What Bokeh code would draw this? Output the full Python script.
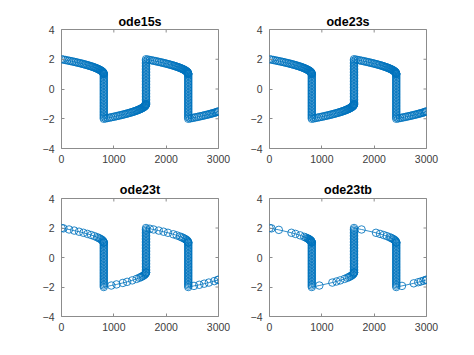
from bokeh.plotting import figure
from bokeh.layouts import column, row
from bokeh.models import FixedTicker, Range1d
from bokeh.embed import file_html
from bokeh.resources import INLINE

BLUE = "#0072BD"
X_TICKS = [0, 1000, 2000, 3000]
Y_TICKS = [-4, -2, 0, 2, 4]
X_LIM = (0, 3000)
Y_LIM = (-4, 4)

# time of the three fast transitions and the stacked samples in each vertical jump
JUMP_T = [808, 1615, 2422]
DROP_Y = [1.0, 0.9, 0.8, 0.7, 0.6, 0.5, 0.4, 0.3, 0.2, 0.1, 0.0, -0.1, -0.2, -0.3, -0.4,
          -0.5, -0.6, -0.7, -0.8, -0.9, -1.0, -1.1, -1.2, -1.3, -1.4, -1.5, -1.6, -1.7,
          -1.8, -1.9, -2.0]
RISE_Y = [-1.0, -0.9, -0.8, -0.7, -0.6, -0.5, -0.4, -0.3, -0.2, -0.1, 0.0, 0.1, 0.2, 0.3,
          0.4, 0.5, 0.6, 0.7, 0.8, 0.9, 1.0, 1.1, 1.2, 1.3, 1.4, 1.5, 1.6, 1.7, 1.8, 1.9, 2.0]

# slow-branch samples, ode15s (dense steps)
ODE15S_T = [0, 37, 73, 109, 144, 178, 211, 243, 275, 305, 335, 364, 393, 420, 446, 472, 497,
            521, 544, 566, 587, 608, 627, 646, 663, 680, 696, 710, 724, 737, 749, 760, 769,
            778, 785, 792, 797, 801, 804, 806, 807,
            845, 881, 917, 952, 986, 1019, 1051, 1083, 1113, 1143, 1172, 1201, 1228, 1254,
            1280, 1305, 1329, 1352, 1374, 1395, 1416, 1435, 1454, 1471, 1488, 1504, 1518,
            1532, 1545, 1557, 1568, 1577, 1586, 1593, 1600, 1605, 1609, 1612, 1614, 1615,
            1652, 1688, 1724, 1759, 1793, 1826, 1858, 1890, 1920, 1950, 1979, 2008, 2035,
            2061, 2087, 2112, 2136, 2159, 2181, 2202, 2223, 2242, 2261, 2278, 2295, 2311,
            2325, 2339, 2352, 2364, 2375, 2384, 2393, 2400, 2407, 2412, 2416, 2419, 2421, 2422,
            2459, 2495, 2531, 2566, 2600, 2633, 2665, 2697, 2727, 2757, 2786, 2815, 2842,
            2868, 2894, 2919, 2943, 2966, 2988, 3000]
ODE15S_Y = [2.0, 1.975, 1.95, 1.925, 1.9, 1.875, 1.85, 1.825, 1.8, 1.775, 1.75, 1.725, 1.7,
            1.675, 1.65, 1.625, 1.6, 1.575, 1.55, 1.525, 1.5, 1.475, 1.45, 1.425, 1.4, 1.375,
            1.35, 1.325, 1.3, 1.275, 1.25, 1.225, 1.2, 1.175, 1.15, 1.125, 1.1, 1.075, 1.05,
            1.025, 1.0,
            -1.975, -1.95, -1.925, -1.9, -1.875, -1.85, -1.825, -1.8, -1.775, -1.75, -1.725,
            -1.7, -1.675, -1.65, -1.625, -1.6, -1.575, -1.55, -1.525, -1.5, -1.475, -1.45,
            -1.425, -1.4, -1.375, -1.35, -1.325, -1.3, -1.275, -1.25, -1.225, -1.2, -1.175,
            -1.15, -1.125, -1.1, -1.075, -1.05, -1.025, -1.0,
            1.975, 1.95, 1.925, 1.9, 1.875, 1.85, 1.825, 1.8, 1.775, 1.75, 1.725, 1.7, 1.675,
            1.65, 1.625, 1.6, 1.575, 1.55, 1.525, 1.5, 1.475, 1.45, 1.425, 1.4, 1.375, 1.35,
            1.325, 1.3, 1.275, 1.25, 1.225, 1.2, 1.175, 1.15, 1.125, 1.1, 1.075, 1.05, 1.025, 1.0,
            -1.975, -1.95, -1.925, -1.9, -1.875, -1.85, -1.825, -1.8, -1.775, -1.75, -1.725,
            -1.7, -1.675, -1.65, -1.625, -1.6, -1.575, -1.55, -1.525, -1.505]

# ode23s looks the same as ode15s at this resolution
ODE23S_T = list(ODE15S_T)
ODE23S_Y = list(ODE15S_Y)

# ode23t (medium steps)
ODE23T_T = [0, 37, 144, 243, 335, 420, 497, 566, 627, 680, 710, 737, 760, 778, 792, 801, 806, 807,
            952, 1051, 1172, 1254, 1352, 1435, 1488, 1518, 1545, 1568, 1586, 1600, 1609, 1614, 1615,
            1688, 1759, 1858, 1950, 2035, 2136, 2202, 2261, 2295, 2325, 2352, 2375, 2393, 2407,
            2416, 2421, 2422,
            2531, 2633, 2727, 2815, 2919, 2988, 3000]
ODE23T_Y = [2.0, 1.975, 1.9, 1.825, 1.75, 1.675, 1.6, 1.525, 1.45, 1.375, 1.325, 1.275, 1.225,
            1.175, 1.125, 1.075, 1.025, 1.0,
            -1.9, -1.825, -1.725, -1.65, -1.55, -1.45, -1.375, -1.325, -1.275, -1.225, -1.175,
            -1.125, -1.075, -1.025, -1.0,
            1.95, 1.9, 1.825, 1.75, 1.675, 1.575, 1.5, 1.425, 1.375, 1.325, 1.275, 1.225, 1.175,
            1.125, 1.075, 1.025, 1.0,
            -1.925, -1.85, -1.775, -1.7, -1.6, -1.525, -1.505]

# ode23tb (large steps)
ODE23TB_T = [0, 37, 178, 420, 497, 587, 663, 696, 724, 737, 749, 760, 769, 778, 785, 792, 797,
             801, 804, 806, 807,
             952, 1201, 1280, 1352, 1435, 1488, 1518, 1545, 1568, 1586, 1600, 1609, 1614, 1615,
             1759, 2035, 2112, 2181, 2242, 2295, 2325, 2352, 2375, 2393, 2407, 2416, 2421, 2422,
             2531, 2757, 2842, 2894, 2943, 2988, 3000]
ODE23TB_Y = [2.0, 1.975, 1.875, 1.675, 1.6, 1.5, 1.4, 1.35, 1.3, 1.275, 1.25, 1.225, 1.2, 1.175,
             1.15, 1.125, 1.1, 1.075, 1.05, 1.025, 1.0,
             -1.9, -1.7, -1.625, -1.55, -1.45, -1.375, -1.325, -1.275, -1.225, -1.175, -1.125,
             -1.075, -1.025, -1.0,
             1.9, 1.675, 1.6, 1.525, 1.45, 1.375, 1.325, 1.275, 1.225, 1.175, 1.125, 1.075,
             1.025, 1.0,
             -1.925, -1.75, -1.675, -1.625, -1.575, -1.525, -1.505]

TITLES = ["ode15s", "ode23s", "ode23t", "ode23tb"]
SERIES = [(ODE15S_T, ODE15S_Y), (ODE23S_T, ODE23S_Y), (ODE23T_T, ODE23T_Y), (ODE23TB_T, ODE23TB_Y)]

FONT = "Liberation Sans"
TICK_COLOR = "#404040"
BOX_COLOR = "#8c8c8c"


def with_jumps(ts, ys):
    pts = list(zip(ts, ys))
    for k, jt in enumerate(JUMP_T):
        col = DROP_Y if k % 2 == 0 else RISE_Y
        pts += [(jt, v) for v in col]
    pts.sort(key=lambda p: p[0])
    return [p[0] for p in pts], [p[1] for p in pts]


def panel(title, ts, ys, left, right, top, bottom, fh, title_standoff):
    p = figure(frame_width=157, frame_height=fh,
               x_range=Range1d(*X_LIM), y_range=Range1d(*Y_LIM),
               output_backend="svg", toolbar_location=None, title=title,
               min_border_left=left, min_border_right=right,
               min_border_top=top, min_border_bottom=bottom,
               background_fill_color="white", border_fill_color="white")
    p.title.align = "center"
    p.title.text_font = FONT
    p.title.text_font_size = "12.5px"
    p.title.text_font_style = "bold"
    p.title.text_color = "#000000"
    p.title.standoff = title_standoff
    p.xgrid.visible = False
    p.ygrid.visible = False
    p.outline_line_color = BOX_COLOR
    p.outline_line_width = 1

    for ax, ticks in ((p.xaxis[0], X_TICKS), (p.yaxis[0], Y_TICKS)):
        ax.ticker = FixedTicker(ticks=ticks)
        ax.axis_line_color = None
        ax.major_tick_in = 3
        ax.major_tick_out = 0
        ax.minor_tick_line_color = None
        ax.major_tick_line_color = BOX_COLOR
        ax.major_label_text_font = FONT
        ax.major_label_text_font_size = "10.5px"
        ax.major_label_text_color = TICK_COLOR
    p.xaxis[0].major_label_standoff = 6
    p.yaxis[0].major_label_standoff = 7

    # inner tick marks on the top and right edges of the box (half of each dash is clipped)
    p.scatter(X_TICKS, [Y_LIM[1]] * len(X_TICKS), marker="dash", angle=1.5708, size=6,
              line_color=BOX_COLOR, line_width=1)
    p.scatter([X_LIM[1]] * len(Y_TICKS), Y_TICKS, marker="dash", size=6,
              line_color=BOX_COLOR, line_width=1)

    xs, yv = with_jumps(ts, ys)
    p.line(xs, yv, line_color=BLUE, line_width=0.8)
    p.scatter(xs, yv, marker="circle", size=7.5, fill_color=None,
              line_color=BLUE, line_width=0.85)
    return p


p1 = panel(TITLES[0], *SERIES[0], left=61, right=19, top=29, bottom=26, fh=119, title_standoff=2)
p2 = panel(TITLES[1], *SERIES[1], left=32, right=48, top=29, bottom=26, fh=119, title_standoff=2)
p3 = panel(TITLES[2], *SERIES[2], left=61, right=19, top=24, bottom=39, fh=118, title_standoff=4)
p4 = panel(TITLES[3], *SERIES[3], left=32, right=48, top=24, bottom=39, fh=118, title_standoff=4)

layout = column(row(p1, p2), row(p3, p4))
open("out.html", "w").write(file_html(layout, INLINE))
